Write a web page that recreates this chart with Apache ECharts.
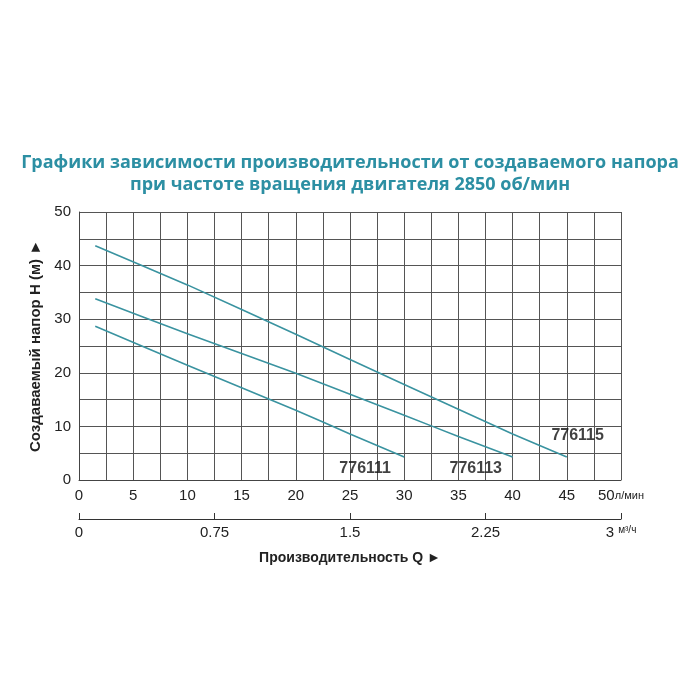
<!DOCTYPE html><html><head><meta charset="utf-8"><script src="https://cdn.jsdelivr.net/npm/echarts@6/dist/echarts.min.js"></script></head><body style="margin:0;background:#fff"><div id="c" style="width:700px;height:700px"></div><script>
const xTicks=[0,5,10,15,20,25,30,35,40,45,50];
const q2Ticks=[0,0.75,1.5,2.25,3];
const s776115=[[1.5,43.7],[10,36.4],[20,27.2],[30,17.8],[40,8.6],[45,4.3]];
const s776113=[[1.5,33.8],[10,27.3],[20,19.9],[30,12.1],[35,8.1],[40,4.3]];
const s776111=[[1.5,28.7],[10,21.4],[20,13.0],[25,8.6],[30,4.3]];
const names=['776115','776113','776111'];
const labelPos=[[46,8.2],[36.6,2.2],[26.4,2.2]];
const c=echarts.init(document.getElementById('c'));
const col='#3a93a0';
const mk=(d)=>({type:'line',data:d,symbol:'none',smooth:0.15,lineStyle:{color:col,width:1.6},xAxisIndex:0,yAxisIndex:0});
const lab={fontSize:15,color:'#222',fontFamily:'Liberation Sans'};
c.setOption({animation:false,
title:{text:'Графики зависимости производительности от создаваемого напора\nпри частоте вращения двигателя 2850 об/мин',left:'center',top:147,textStyle:{color:'#2c8fa3',fontSize:18,fontWeight:'bold',lineHeight:22,fontFamily:'Open Sans'}},
grid:[{left:79,right:79,top:212,bottom:220},{left:79,right:79,top:518,bottom:181}],
xAxis:[{type:'value',gridIndex:0,min:0,max:50,interval:2.5,axisLine:{lineStyle:{color:'#444'}},axisTick:{show:false},
 splitLine:{lineStyle:{color:'#555',width:1}},axisLabel:Object.assign({margin:8,formatter:v=>v%5===0?(v===50?'50{u|л/мин}':String(v)):'',rich:{u:{fontSize:11,color:'#222'}}},lab)},
 {type:'value',gridIndex:1,min:0,max:3,interval:0.75,axisLine:{lineStyle:{color:'#333'}},axisTick:{inside:true,length:6,lineStyle:{color:'#333'}},splitLine:{show:false},
 axisLabel:Object.assign({margin:6,formatter:v=>v===3?'3 {u|м³/ч}':String(v),rich:{u:{fontSize:10,color:'#222',verticalAlign:'top'}}},lab),
 name:'Производительность Q ►',nameLocation:'middle',nameGap:32,nameTextStyle:{fontSize:14,fontWeight:'bold',color:'#222',fontFamily:'Liberation Sans'}}],
yAxis:[{type:'value',gridIndex:0,min:0,max:50,interval:5,axisLine:{show:true,lineStyle:{color:'#444'}},axisTick:{show:false},
 splitLine:{lineStyle:{color:'#555',width:1}},axisLabel:Object.assign({formatter:v=>v%10===0?String(v):''},lab),
 name:'Создаваемый напор H (м) ►',nameLocation:'middle',nameGap:30,nameRotate:90,nameTextStyle:{fontSize:15,fontWeight:'bold',color:'#222',fontFamily:'Liberation Sans'}},
 {type:'value',gridIndex:1,show:false,min:0,max:1}],
series:[mk(s776115),mk(s776113),mk(s776111),
 {type:'scatter',xAxisIndex:0,yAxisIndex:0,symbolSize:0,data:labelPos.map((p,i)=>({value:p,label:{show:true,formatter:names[i],position:'inside',fontSize:16,fontWeight:'bold',color:'#111',fontFamily:'Liberation Sans'}}))}]
});
</script></body></html>
